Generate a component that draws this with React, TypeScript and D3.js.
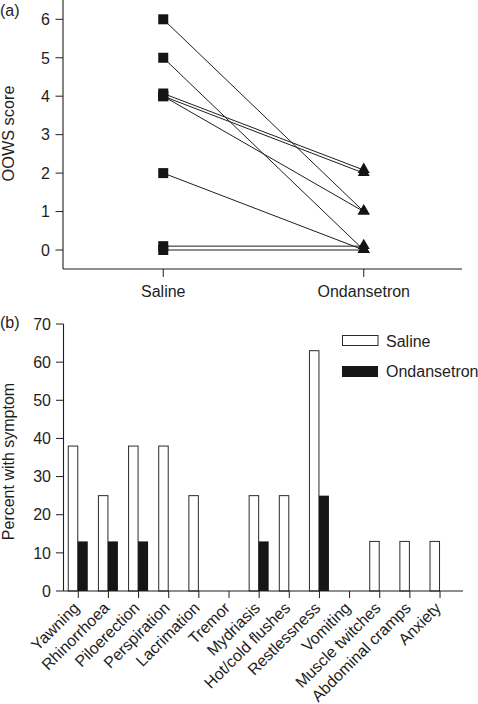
import React from "react";
import * as d3 from "d3";

const groups = ["Saline", "Ondansetron"];
const salineScores = [6, 5, 4.07, 4.0, 4.0, 2, 0.1, 0];
const ondansetronScores = [1, 0, 2.08, 2.0, 1, 0, 0.1, 0];
const scoreTicks = [0, 1, 2, 3, 4, 5, 6];

const symptoms = [
  "Yawning", "Rhinorrhoea", "Piloerection", "Perspiration", "Lacrimation", "Tremor",
  "Mydriasis", "Hot/cold flushes", "Restlessness", "Vomiting", "Muscle twitches",
  "Abdominal cramps", "Anxiety",
];
const salinePct = [38, 25, 38, 38, 25, 0, 25, 25, 63, 0, 13, 13, 13];
const ondansetronPct = [13, 13, 13, 0, 0, 0, 13, 0, 25, 0, 0, 0, 0];
const pctTicks = [0, 10, 20, 30, 40, 50, 60, 70];

const FONT = "'Liberation Sans', Arial, Helvetica, sans-serif";
const INK = "#1e1e1e";

export default function App() {
  // Panel (a)
  const xa = d3.scalePoint<string>().domain(groups).range([63, 464]).padding(0.5);
  const ya = d3.scaleLinear().domain([0, 6]).range([250, 19.3]);
  const pairs = salineScores.map((s, i) => ({ s, o: ondansetronScores[i] }));
  const tri = d3.symbol().type(d3.symbolTriangle).size(62)();

  // Panel (b)
  const xb = d3.scaleBand<string>().domain(symptoms).range([63.2, 455.1]).padding(0);
  const yb = d3.scaleLinear().domain([0, 70]).range([591, 324]);
  const bw = xb.bandwidth();

  return (
    <svg width={478} height={704} style={{ position: "absolute", left: 0, top: 0, background: "#fff" }}
      fontFamily={FONT} fill={INK}>
      {/* ---------- Panel (a) ---------- */}
      <text x={0} y={16} fontSize={16}>(a)</text>
      <text transform="translate(13.5,133.5) rotate(-90)" textAnchor="middle" fontSize={16.3}>OOWS score</text>
      <line x1={63} x2={63} y1={0} y2={269} stroke={INK} strokeWidth={1.1} />
      <line x1={63} x2={462} y1={269} y2={269} stroke={INK} strokeWidth={1.1} />
      {scoreTicks.map((t) => (
        <g key={t} transform={`translate(0,${ya(t)})`}>
          <line x1={55.5} x2={63} stroke={INK} strokeWidth={1} />
          <text x={50} dy="0.36em" textAnchor="end" fontSize={16}>{t}</text>
        </g>
      ))}
      {groups.map((g) => (
        <g key={g} transform={`translate(${xa(g)},0)`}>
          <line y1={269} y2={277} stroke={INK} strokeWidth={1} />
          <text y={296.5} textAnchor="middle" fontSize={16}>{g}</text>
        </g>
      ))}
      {pairs.map((p, i) => (
        <line key={i} x1={xa("Saline")} y1={ya(p.s)} x2={xa("Ondansetron")} y2={ya(p.o)}
          stroke={INK} strokeWidth={1} />
      ))}
      {pairs.map((p, i) => (
        <rect key={"s" + i} x={(xa("Saline") as number) - 5} y={ya(p.s) - 5} width={10} height={10} fill="#141414" />
      ))}
      {pairs.map((p, i) => (
        <path key={"o" + i} d={tri as string} transform={`translate(${xa("Ondansetron")},${ya(p.o) - 0.5})`} fill="#141414" />
      ))}

      {/* ---------- Panel (b) ---------- */}
      <text x={0} y={328} fontSize={16}>(b)</text>
      <text transform="translate(13.5,461.5) rotate(-90)" textAnchor="middle" fontSize={16}>Percent with symptom</text>
      <line x1={63.5} x2={63.5} y1={324} y2={591} stroke={INK} strokeWidth={1.1} />
      {pctTicks.map((t) => (
        <g key={t} transform={`translate(0,${yb(t)})`}>
          <line x1={56} x2={63.5} stroke={INK} strokeWidth={1} />
          <text x={51} dy="0.36em" textAnchor="end" fontSize={16}>{t}</text>
        </g>
      ))}
      {symptoms.map((c, i) => {
        const cx = (xb(c) as number) + bw / 2;
        return (
          <g key={c}>
            {salinePct[i] > 0 && (
              <rect x={cx - 10} y={yb(salinePct[i])} width={9.5} height={yb(0) - yb(salinePct[i])}
                fill="#fff" stroke="#2a2a2a" strokeWidth={1} />
            )}
            {ondansetronPct[i] > 0 && (
              <rect x={cx - 0.5} y={yb(ondansetronPct[i])} width={10} height={yb(0) - yb(ondansetronPct[i])}
                fill="#161616" />
            )}
          </g>
        );
      })}
      <line x1={63.5} x2={463} y1={591} y2={591} stroke={INK} strokeWidth={1.1} />
      {symptoms.map((c) => {
        const cx = (xb(c) as number) + bw / 2;
        return (
          <g key={"t" + c}>
            <line x1={cx} x2={cx} y1={591} y2={598} stroke={INK} strokeWidth={1} />
            <text transform={`translate(${cx + 2},${609}) rotate(-45)`} textAnchor="end" fontSize={16}>{c}</text>
          </g>
        );
      })}
      {/* legend */}
      <rect x={342.5} y={335.5} width={35.5} height={10} fill="#fff" stroke="#2a2a2a" strokeWidth={1} />
      <text x={386} y={347} fontSize={16}>Saline</text>
      <rect x={342} y={366} width={36} height={11} fill="#161616" />
      <text x={386} y={376.7} fontSize={16}>Ondansetron</text>
    </svg>
  );
}
